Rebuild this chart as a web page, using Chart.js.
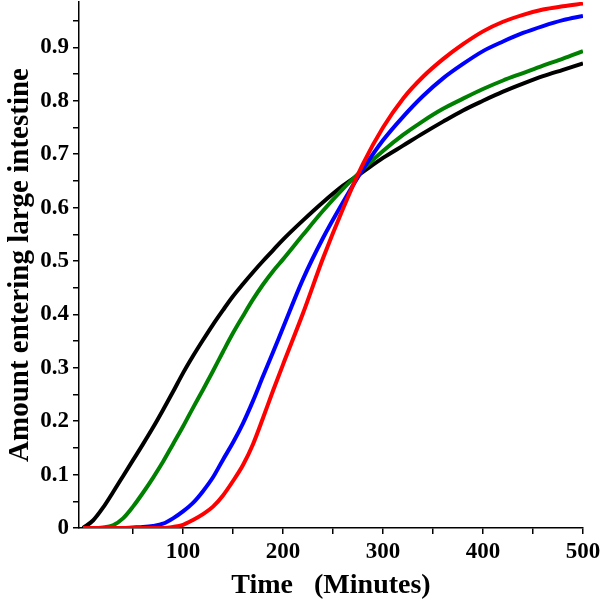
<!DOCTYPE html>
<html>
<head>
<meta charset="utf-8">
<script src="https://cdn.jsdelivr.net/npm/chart.js@4.4.1/dist/chart.umd.min.js"></script>
<style>
  body { margin: 0; background: #fff; }
  canvas { display: block; }
</style>
</head>
<body>
<canvas id="chart" width="600" height="604"></canvas>
<script>
// time in minutes
const times = [0, 10, 20, 30, 40, 50, 60, 70, 80, 90, 100, 110, 120, 130, 140, 150, 160, 170, 180, 190,
    200, 220, 240, 260, 280, 300, 320, 340, 360, 380, 400, 420, 440, 460, 480, 500];

const redCurve = [0, 0, 0, 0, 0, 0, 0, 0, 0, 0.002, 0.006, 0.015, 0.026, 0.04, 0.061, 0.088, 0.118, 0.157, 0.206, 0.257,
    0.306, 0.402, 0.505, 0.598, 0.682, 0.75, 0.804, 0.845, 0.878, 0.906, 0.93, 0.948, 0.961, 0.971, 0.977, 0.982];
const blueCurve = [0, 0, 0, 0, 0, 0.001, 0.002, 0.004, 0.008, 0.018, 0.031, 0.047, 0.069, 0.095, 0.128, 0.16, 0.196, 0.238, 0.284, 0.329,
    0.375, 0.466, 0.543, 0.61, 0.672, 0.726, 0.77, 0.809, 0.842, 0.869, 0.893, 0.911, 0.927, 0.94, 0.951, 0.959];
const greenCurve = [0, 0, 0.001, 0.005, 0.018, 0.04, 0.066, 0.094, 0.124, 0.157, 0.19, 0.225, 0.259, 0.294, 0.33, 0.365, 0.397, 0.428, 0.456, 0.481,
    0.503, 0.549, 0.594, 0.635, 0.672, 0.706, 0.736, 0.762, 0.785, 0.804, 0.822, 0.838, 0.852, 0.866, 0.879, 0.893];
const blackCurve = [0, 0.014, 0.038, 0.067, 0.097, 0.127, 0.157, 0.188, 0.221, 0.255, 0.29, 0.322, 0.352, 0.381, 0.408, 0.434, 0.457, 0.479, 0.5, 0.52,
    0.54, 0.576, 0.61, 0.641, 0.667, 0.693, 0.716, 0.739, 0.761, 0.782, 0.8, 0.817, 0.832, 0.846, 0.858, 0.87];

const xTicks = [50, 100, 150, 200, 250, 300, 350, 400, 450, 500];
const yTicks = [0, 0.05, 0.1, 0.15, 0.2, 0.25, 0.3, 0.35, 0.4, 0.45, 0.5, 0.55, 0.6, 0.65, 0.7, 0.75, 0.8, 0.85, 0.9, 0.95];
const yLabels = ["0", "", "0.1", "", "0.2", "", "0.3", "", "0.4", "", "0.5", "", "0.6", "", "0.7", "", "0.8", "", "0.9", ""];

const toPoints = (ys) => times.map((t, i) => ({ x: t, y: ys[i] }));

const makeLine = (data, color) => ({
    data: toPoints(data),
    borderColor: color,
    borderWidth: 4,
    pointRadius: 0,
    fill: false,
    cubicInterpolationMode: "monotone",
});

const serif = "'Liberation Serif', 'Times New Roman', serif";

new Chart(document.getElementById("chart"), {
    type: "line",
    data: {
        datasets: [
            makeLine(redCurve, "#ff0000"),
            makeLine(blueCurve, "#0000ff"),
            makeLine(greenCurve, "#008000"),
            makeLine(blackCurve, "#000000"),
        ],
    },
    options: {
        responsive: false,
        animation: false,
        devicePixelRatio: 1,
        layout: { padding: { top: 2, right: 17, left: 0, bottom: 0 } },
        plugins: { legend: { display: false }, tooltip: { enabled: false } },
        scales: {
            x: {
                type: "linear",
                min: -4,
                max: 500,
                afterBuildTicks: (scale) => {
                    scale.ticks = xTicks.map((v) => ({ value: v }));
                },
                afterFit: (scale) => {
                    scale.height = 76;
                    scale.paddingLeft = 0;
                    scale.paddingRight = 0;
                },
                ticks: {
                    autoSkip: false,
                    maxRotation: 0,
                    padding: 4,
                    color: "#000",
                    font: { family: serif, size: 23, weight: "bold" },
                    callback: (v) => (v % 100 === 0 ? String(v) : ""),
                },
                grid: { drawOnChartArea: false, tickLength: 6, color: "#000", lineWidth: 1.5 },
                border: { color: "#000", width: 1.5 },
                title: {
                    display: true,
                    text: "Time   (Minutes)",
                    color: "#000",
                    font: { family: serif, size: 28, weight: "bold" },
                    padding: { top: 0, bottom: 1 },
                },
            },
            y: {
                type: "linear",
                min: 0,
                max: 0.985,
                afterBuildTicks: (scale) => {
                    scale.ticks = yTicks.map((v) => ({ value: v }));
                },
                afterFit: (scale) => {
                    scale.width = 79;
                    scale.paddingTop = 0;
                    scale.paddingBottom = 0;
                },
                ticks: {
                    autoSkip: false,
                    padding: 4,
                    color: "#000",
                    font: { family: serif, size: 23, weight: "bold" },
                    callback: (v, i) => yLabels[i],
                },
                grid: { drawOnChartArea: false, tickLength: 6, color: "#000", lineWidth: 1.5 },
                border: { color: "#000", width: 1.5 },
                title: {
                    display: true,
                    text: "Amount entering large intestine",
                    color: "#000",
                    font: { family: serif, size: 29, weight: "bold" },
                    padding: { top: 3, bottom: 0 },
                },
            },
        },
    },
});
</script>
</body>
</html>
